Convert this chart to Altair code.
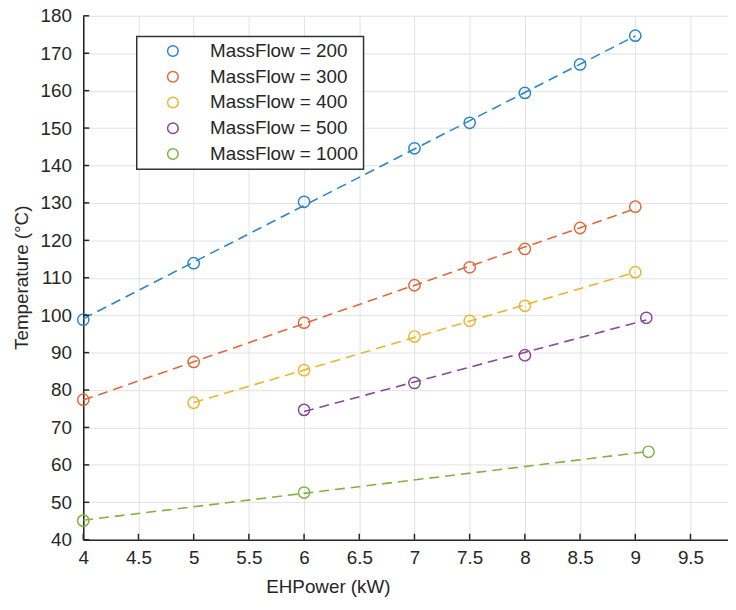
import altair as alt
import pandas as pd

series_names = ["MassFlow = 200", "MassFlow = 300", "MassFlow = 400", "MassFlow = 500", "MassFlow = 1000"]
colors = ["#2a86c8", "#de6a3c", "#ecb52e", "#8a479a", "#7fb241"]

x200 = [4, 5, 6, 7, 7.5, 8, 8.5, 9]
y200 = [98.8, 113.9, 130.3, 144.6, 151.4, 159.4, 167.0, 174.7]
x300 = [4, 5, 6, 7, 7.5, 8, 8.5, 9]
y300 = [77.4, 87.5, 98.0, 108.0, 112.8, 117.7, 123.3, 129.0]
x400 = [5, 6, 7, 7.5, 8, 9]
y400 = [76.6, 85.3, 94.3, 98.5, 102.5, 111.5]
x500 = [6, 7, 8, 9.1]
y500 = [74.7, 81.9, 89.3, 99.3]
x1000 = [4, 6, 9.12]
y1000 = [45.1, 52.6, 63.5]

x_ticks = [4, 4.5, 5, 5.5, 6, 6.5, 7, 7.5, 8, 8.5, 9, 9.5]
y_ticks = [40, 50, 60, 70, 80, 90, 100, 110, 120, 130, 140, 150, 160, 170, 180]

rows = []
for name, xs, ys in zip(series_names, [x200, x300, x400, x500, x1000], [y200, y300, y400, y500, y1000]):
    for a, b in zip(xs, ys):
        rows.append({"x": a, "y": b, "series": name})
df = pd.DataFrame(rows)

W, H = 651, 529
FONT = "Liberation Sans"
TXT = "#262626"

xscale = alt.Scale(domain=[4, 9.84], nice=False, zero=False)
yscale = alt.Scale(domain=[40, 180], nice=False, zero=False)
cscale = alt.Scale(domain=series_names, range=colors)

xaxis = alt.Axis(values=x_ticks, format="~g", title="EHPower (kW)", labelFontSize=19, titleFontSize=19,
                 labelPadding=9, ticks=False, labelFlush=False, labelOverlap=False,
                 titleX=247, titleY=47, titleBaseline="middle",
                 titleAnchor="start", titleAlign="center")
yaxis = alt.Axis(values=y_ticks, format="d", title="Temperature (°C)", labelFontSize=19, titleFontSize=19,
                 labelPadding=12, ticks=False, labelFlush=False, labelOverlap=False,
                 titleX=-62, titleY=264, titleBaseline="middle",
                 titleAngle=270, titleAlign="center", titleAnchor="start")

base = alt.Chart(df)

lines = base.transform_regression("x", "y", groupby=["series"]).mark_line(
    strokeDash=[10, 6], strokeWidth=1.6
).encode(
    x=alt.X("x:Q", scale=xscale, axis=xaxis),
    y=alt.Y("y:Q", scale=yscale, axis=yaxis),
    color=alt.Color("series:N", scale=cscale, legend=None),
)

points = base.mark_point(shape="circle", filled=False, size=130, strokeWidth=1.5, opacity=1).encode(
    x=alt.X("x:Q", scale=xscale, axis=xaxis),
    y=alt.Y("y:Q", scale=yscale, axis=yaxis),
    color=alt.Color("series:N", scale=cscale, sort=series_names,
                    legend=alt.Legend(title=None, orient="none", legendX=54, legendY=21,
                                      labelFontSize=19, symbolType="circle", symbolSize=115,
                                      symbolStrokeWidth=1.5, symbolFillColor="white",
                                      rowPadding=6, labelOffset=28, symbolOffset=22,
                                      padding=5, strokeColor="#333333", fillColor="white",
                                      labelColor=TXT, labelFont=FONT)),
)

xt = pd.DataFrame({"x": x_ticks})
yt = pd.DataFrame({"y": y_ticks})
xtick_marks = alt.Chart(xt).mark_rule(color=TXT, strokeWidth=1.5).encode(
    x=alt.X("x:Q", scale=xscale, axis=xaxis), y=alt.value(H), y2=alt.value(H - 6))
ytick_marks = alt.Chart(yt).mark_rule(color=TXT, strokeWidth=1.5).encode(
    y=alt.Y("y:Q", scale=yscale, axis=yaxis), x=alt.value(0), x2=alt.value(6))

chart = alt.layer(lines, points, xtick_marks, ytick_marks).resolve_legend(
    color="independent"
).properties(
    width=W, height=H,
    autosize=alt.AutoSizeParams(type="none"),
    padding={"left": 76, "top": 5, "right": 0, "bottom": 60},
    background="white",
).configure_view(stroke=None).configure_axis(
    domainColor=TXT, domainWidth=1.6, gridColor="#e2e2e2", gridWidth=1,
    labelColor=TXT, titleColor=TXT, labelFont=FONT, titleFont=FONT, titleFontWeight="normal",
    labelOverlap=False,
).configure_legend(cornerRadius=0, strokeWidth=1.5)

chart.save("out.html", embed_options={"renderer": "svg", "actions": False})
